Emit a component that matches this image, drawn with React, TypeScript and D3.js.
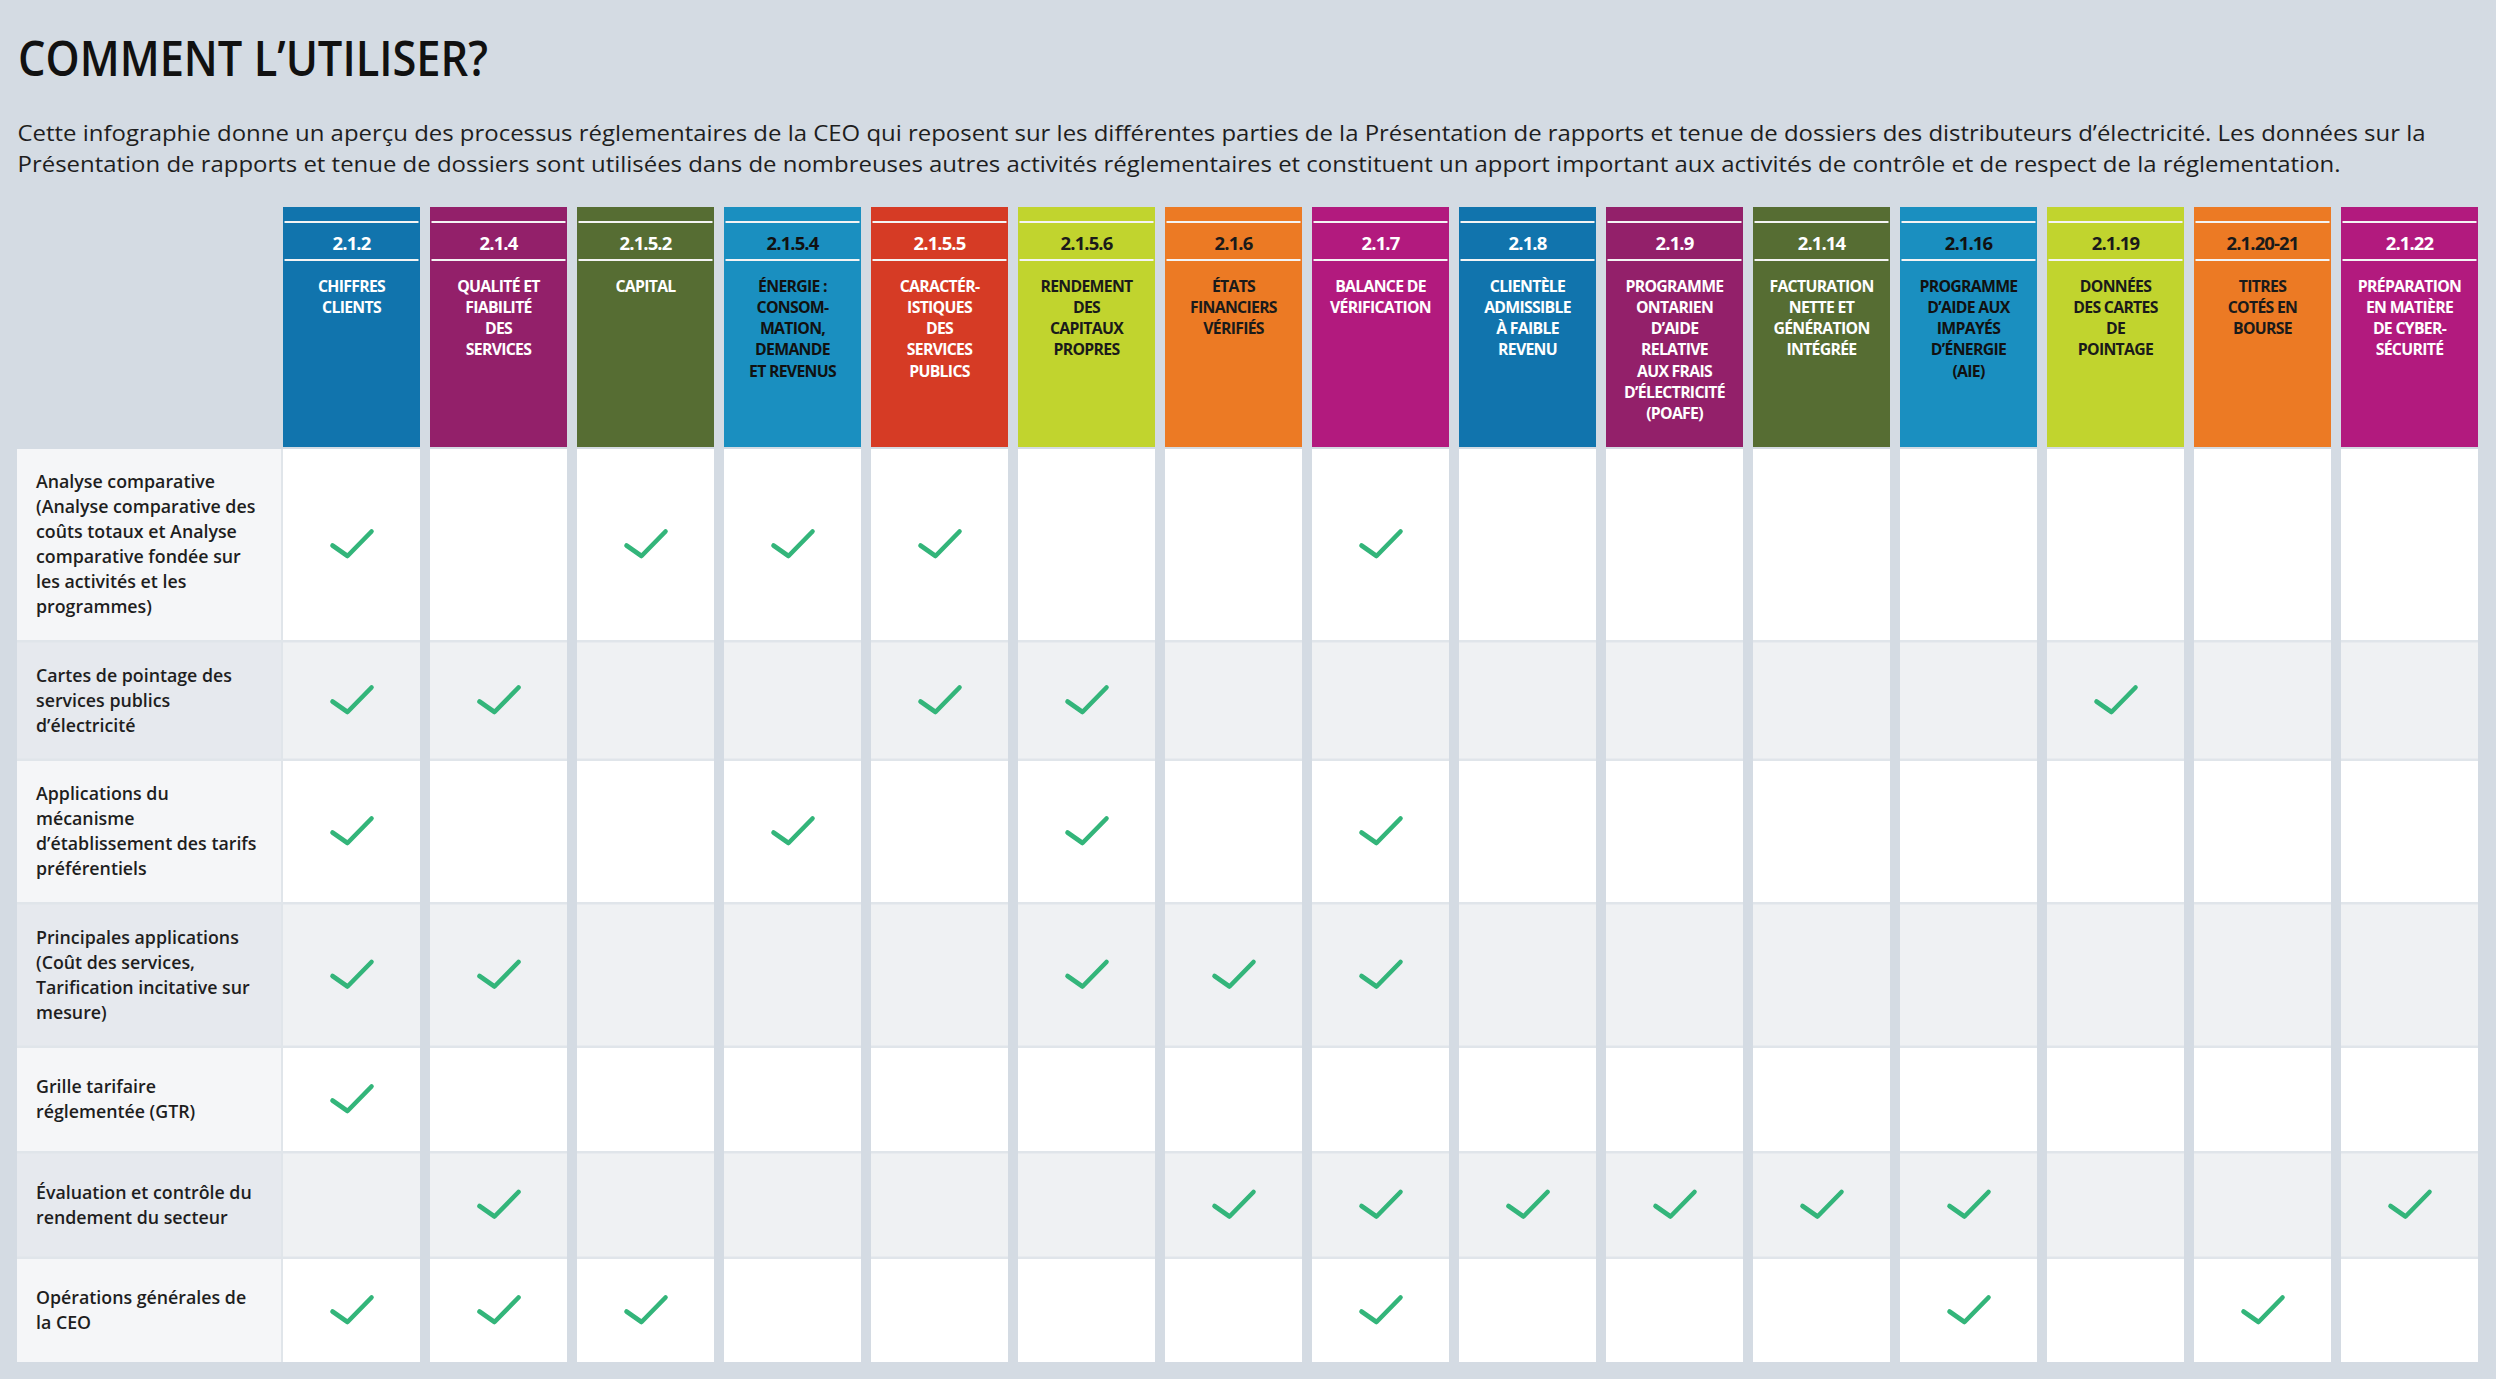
import React, { useEffect } from "react";
import * as d3 from "d3";

// ---------- DATA ----------
const TITLE = "COMMENT L’UTILISER?";
const INTRO_LINES = [
  "Cette infographie donne un aperçu des processus réglementaires de la CEO qui reposent sur les différentes parties de la Présentation de rapports et tenue de dossiers des distributeurs d’électricité. Les données sur la",
  "Présentation de rapports et tenue de dossiers sont utilisées dans de nombreuses autres activités réglementaires et constituent un apport important aux activités de contrôle et de respect de la réglementation.",
];

const CODES = [
  "2.1.2", "2.1.4", "2.1.5.2", "2.1.5.4", "2.1.5.5", "2.1.5.6", "2.1.6", "2.1.7",
  "2.1.8", "2.1.9", "2.1.14", "2.1.16", "2.1.19", "2.1.20-21", "2.1.22",
];

const HEADER_LINES = [
  ["CHIFFRES", "CLIENTS"],
  ["QUALITÉ ET", "FIABILITÉ", "DES", "SERVICES"],
  ["CAPITAL"],
  ["ÉNERGIE :", "CONSOM-", "MATION,", "DEMANDE", "ET REVENUS"],
  ["CARACTÉR-", "ISTIQUES", "DES", "SERVICES", "PUBLICS"],
  ["RENDEMENT", "DES", "CAPITAUX", "PROPRES"],
  ["ÉTATS", "FINANCIERS", "VÉRIFIÉS"],
  ["BALANCE DE", "VÉRIFICATION"],
  ["CLIENTÈLE", "ADMISSIBLE", "À FAIBLE", "REVENU"],
  ["PROGRAMME", "ONTARIEN", "D’AIDE", "RELATIVE", "AUX FRAIS", "D’ÉLECTRICITÉ", "(POAFE)"],
  ["FACTURATION", "NETTE ET", "GÉNÉRATION", "INTÉGRÉE"],
  ["PROGRAMME", "D’AIDE AUX", "IMPAYÉS", "D’ÉNERGIE", "(AIE)"],
  ["DONNÉES", "DES CARTES", "DE", "POINTAGE"],
  ["TITRES", "COTÉS EN", "BOURSE"],
  ["PRÉPARATION", "EN MATIÈRE", "DE CYBER-", "SÉCURITÉ"],
];

const ROW_LABELS = [
  ["Analyse comparative", "(Analyse comparative des", "coûts totaux et Analyse", "comparative fondée sur", "les activités et les", "programmes)"],
  ["Cartes de pointage des", "services publics", "d’électricité"],
  ["Applications du", "mécanisme", "d’établissement des tarifs", "préférentiels"],
  ["Principales applications", "(Coût des services,", "Tarification incitative sur", "mesure)"],
  ["Grille tarifaire", "réglementée (GTR)"],
  ["Évaluation et contrôle du", "rendement du secteur"],
  ["Opérations générales de", "la CEO"],
];

const CHECKS = [
  ["2.1.2", "2.1.5.2", "2.1.5.4", "2.1.5.5", "2.1.7"],
  ["2.1.2", "2.1.4", "2.1.5.5", "2.1.5.6", "2.1.19"],
  ["2.1.2", "2.1.5.4", "2.1.5.6", "2.1.7"],
  ["2.1.2", "2.1.4", "2.1.5.6", "2.1.6", "2.1.7"],
  ["2.1.2"],
  ["2.1.4", "2.1.6", "2.1.7", "2.1.8", "2.1.9", "2.1.14", "2.1.16", "2.1.22"],
  ["2.1.2", "2.1.4", "2.1.5.2", "2.1.7", "2.1.16", "2.1.20-21"],
];

// ---------- STYLE ----------
const HEADER_COLORS = [
  "#1174ad", "#93206a", "#566d33", "#1a8fc0", "#d63b25", "#c1d42e", "#ec7a24", "#b21a7e",
  "#1174ad", "#93206a", "#566d33", "#1a8fc0", "#c1d42e", "#ec7a24", "#b21a7e",
];
const HEADER_TEXT = [
  "#ffffff", "#ffffff", "#ffffff", "#111111", "#ffffff", "#1a1a1a", "#1a1a1a", "#ffffff",
  "#ffffff", "#ffffff", "#ffffff", "#111111", "#1a1a1a", "#1a1a1a", "#ffffff",
];

const W = 2496;
const H = 1379;
const PAGE_BG = "#d4dbe3";
const SEP = "#e0e5ea";
const GREEN = "#33b57a";
const FONT = "'Open Sans', 'Noto Sans', sans-serif";

export default function App() {
  useEffect(() => {
    document.body.style.margin = "0";
    document.body.style.background = PAGE_BG;
  }, []);

  const colLeft = 283;
  const colStep = 147;
  const gap = 10;
  const x = d3
    .scaleBand<string>()
    .domain(CODES)
    .range([colLeft, colLeft + CODES.length * colStep - gap])
    .paddingInner(gap / colStep)
    .paddingOuter(0);
  const bw = x.bandwidth();

  const headerTop = 207;
  const headerBottom = 447;
  const bodyTop = 449;
  const rowGap = 2.5;
  const lineH = 25;
  const heights = ROW_LABELS.map((l) => Math.max(103, l.length * lineH + 41));
  const tops: number[] = [];
  heights.reduce((acc, h) => {
    tops.push(acc);
    return acc + h + rowGap;
  }, bodyTop);
  const bodyBottom = tops[tops.length - 1] + heights[heights.length - 1];

  const labelLeft = 17;
  const labelRight = 281;
  const rightEnd = (x(CODES[CODES.length - 1]) as number) + bw;

  const checkPath = d3.line()([
    [-19, 1],
    [-4, 11.5],
    [20, -13],
  ]) as string;

  return (
    <svg width={W} height={H} style={{ display: "block", background: PAGE_BG }} fontFamily={FONT}>
      <rect x={0} y={0} width={W} height={H} fill={PAGE_BG} />
      {/* Title */}
      <text x={18} y={76} fontSize={48} fontWeight={600} fill="#111" textLength={470} lengthAdjust="spacingAndGlyphs">
        {TITLE}
      </text>
      {INTRO_LINES.map((t, i) => (
        <text
          key={i}
          x={17.5}
          y={141 + i * 31}
          fontSize={21.5}
          fill="#1e1e1e"
          textLength={i === 0 ? 2408 : 2323}
          lengthAdjust="spacingAndGlyphs"
        >
          {t}
        </text>
      ))}

      {/* Header */}
      {CODES.map((c, i) => {
        const x0 = x(c) as number;
        const cx = x0 + bw / 2;
        return (
          <g key={c}>
            <rect x={x0} y={headerTop} width={bw} height={headerBottom - headerTop} fill={HEADER_COLORS[i]} />
            <rect x={x0 + 1.5} y={221} width={bw - 3} height={2} fill="#f4f4f4" />
            <rect x={x0 + 1.5} y={259} width={bw - 3} height={2} fill="#f4f4f4" />
            <text x={cx} y={249.5} textAnchor="middle" fontSize={18.5} fontWeight={700} letterSpacing={-0.9} fill={HEADER_TEXT[i]}>
              {c}
            </text>
            <text textAnchor="middle" fontSize={15.8} fontWeight={700} letterSpacing={-0.7} fill={HEADER_TEXT[i]}>
              {HEADER_LINES[i].map((l, j) => (
                <tspan key={j} x={cx} y={291.5 + j * 21.3}>
                  {l}
                </tspan>
              ))}
            </text>
          </g>
        );
      })}

      {/* Body backdrop */}
      <rect x={labelLeft} y={bodyTop} width={rightEnd - labelLeft} height={bodyBottom - bodyTop} fill={SEP} />
      {CODES.slice(1).map((c) => (
        <rect key={"g" + c} x={(x(c) as number) - gap} y={bodyTop} width={gap} height={bodyBottom - bodyTop} fill={PAGE_BG} />
      ))}

      {/* Rows */}
      {ROW_LABELS.map((lines, r) => {
        const y0 = tops[r];
        const h = heights[r];
        const even = r % 2 === 1;
        const cy = y0 + h / 2;
        const textStart = cy - ((lines.length - 1) * lineH) / 2 + 6;
        return (
          <g key={r}>
            <rect x={labelLeft} y={y0} width={labelRight - labelLeft} height={h} fill={even ? "#e6e9ee" : "#f5f6f8"} />
            <text fontSize={17.8} fontWeight={600} fill="#1e1e1e">
              {lines.map((l, j) => (
                <tspan key={j} x={36} y={textStart + j * lineH}>
                  {l}
                </tspan>
              ))}
            </text>
            {CODES.map((c) => (
              <rect key={c} x={x(c) as number} y={y0} width={bw} height={h} fill={even ? "#eff1f3" : "#ffffff"} />
            ))}
            {CHECKS[r].map((c) => (
              <path
                key={"k" + c}
                d={checkPath}
                transform={`translate(${(x(c) as number) + bw / 2},${cy})`}
                fill="none"
                stroke={GREEN}
                strokeWidth={4.6}
                strokeLinecap="round"
                strokeLinejoin="round"
              />
            ))}
          </g>
        );
      })}
    </svg>
  );
}
